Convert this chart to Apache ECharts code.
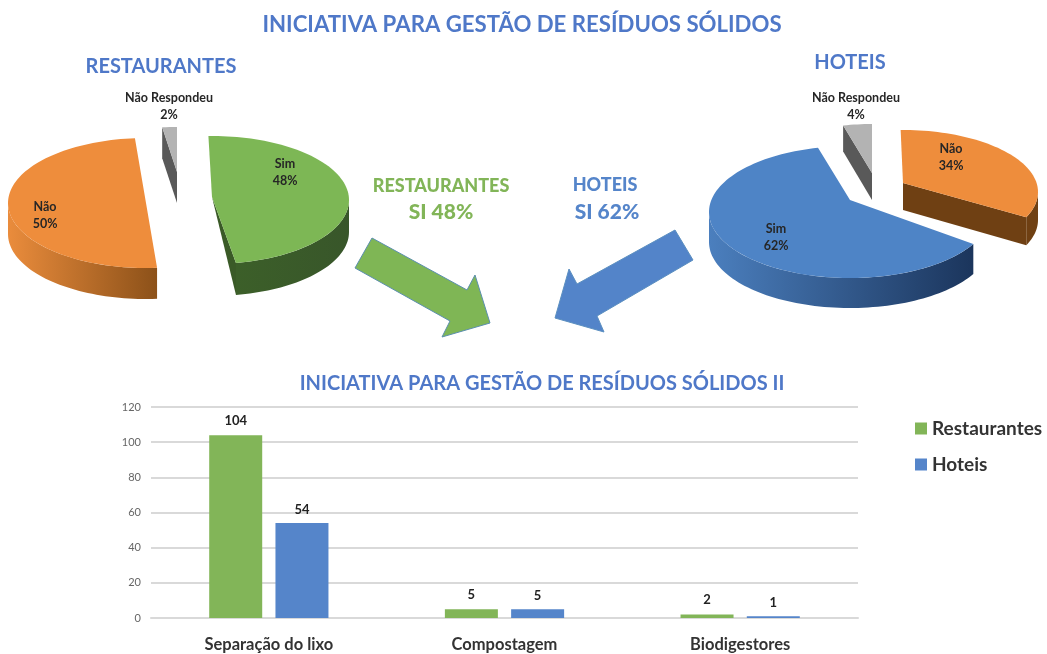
<!DOCTYPE html>
<html><head><meta charset="utf-8">
<style>html,body{margin:0;padding:0;background:#fff}#c{width:1047px;height:654px;filter:blur(0.5px)}</style>
<script src="https://cdn.jsdelivr.net/npm/echarts@6/dist/echarts.min.js"></script>
</head><body><div id="c"></div>
<script>
// ---- data ----
const categories = ['Separação do lixo', 'Compostagem', 'Biodigestores'];
const restaurantes = [104, 5, 2];
const hoteis = [54, 5, 1];
const sliceNames = ['Sim', 'Não', 'Não Respondeu'];
const restaurantesPct = [48, 50, 2];
const hoteisPct = [62, 34, 4];
const yTicksMax = 120, yTicksStep = 20;

// ---- drawing setup for the 3D pies (not data) ----
const FONT = 'Lato, "Noto Sans", sans-serif';
const C = {green:'#7db755', orange:'#ee8d3c', blue:'#4e84c6', gray:'#b3b3b3', title:'#4f78c8', barG:'#82b558', barB:'#5585ca'};
function sideGrad(a,b){return new echarts.graphic.LinearGradient(0,0,1,0,[{offset:0,color:a},{offset:1,color:b}]);}
const restLayout = [
 {cx:212,cy:200,rx:137,ry:64,ax:212,ay:197,start:-1.5,stretch:0.992,depth:32,top:C.green,rim:sideGrad('#3c5f29','#38562a'),faceCol:'#3a5a27',face:'end',apexDrop:0,lx:285,ly:172},
 {cx:146,cy:203,rx:138,ry:65,ax:146,ay:203,start:175.4,stretch:1,depth:31,top:C.orange,rim:sideGrad('#ea8c3c','#8c5119'),lx:45,ly:215},
 {cx:177,cy:172,rx:118,ry:45,ax:177,ay:172,start:352.8,stretch:1,depth:31,top:C.gray,rim:'#595959',faceCol:'#595959',face:'start',apexDrop:31,lx:169,ly:106}
];
const hotelLayout = [
 {cx:850,cy:212,rx:141,ry:66,ax:850,ay:200,start:119,stretch:1.021,depth:30,top:C.blue,rim:sideGrad('#4b7fbe','#1b355c'),lx:776,ly:237},
 {cx:903,cy:192,rx:135,ry:62,ax:903,ay:183,start:-1,stretch:0.94,depth:28,top:C.orange,rim:'#6f4013',faceCol:'#6f4013',face:'end',apexDrop:27,lx:951,ly:157},
 {cx:872,cy:173,rx:116,ry:49,ax:872,ay:173,start:345.6,stretch:1,depth:26,top:C.gray,rim:'#595959',faceCol:'#595959',face:'start',apexDrop:27,lx:856,ly:106}
];

function pieSeries(name, values, layout){
  return {
    type:'custom', name, coordinateSystem:'none', silent:true, z:3,
    data: values.map((v,i)=>({name:sliceNames[i], value:[v,i]})),
    renderItem(params, api){
      const i = params.dataIndex, v = api.value(0), L = layout[i];
      const t0 = L.start, t1 = L.start + v*3.6*L.stretch;
      const pt = (t,d)=>{const r=t*Math.PI/180;return [L.cx+L.rx*Math.sin(r), L.cy-L.ry*Math.cos(r)+(d||0)];};
      const arc=(a,b,d)=>{const n=Math.max(2,Math.ceil(Math.abs(b-a)/2)),o=[];for(let k=0;k<=n;k++)o.push(pt(a+(b-a)*k/n,d));return o;};
      const kids=[];
      let a=Math.max(t0,90), b=Math.min(t1,270);
      if(t0<0 && t1<90){a=1;b=0;}
      if(b>a){
        kids.push({type:'polygon',shape:{points:arc(a,b,0).concat(arc(b,a,L.depth))},style:{fill:L.rim}});
      }
      if(L.face){
        const t=L.face==='end'?t1:t0, p=pt(t,0), q=pt(t,L.depth);
        kids.push({type:'polygon',shape:{points:[[L.ax,L.ay],p,q,[L.ax,L.ay+L.apexDrop]]},style:{fill:L.faceCol}});
      }
      kids.push({type:'polygon',shape:{points:[[L.ax,L.ay]].concat(arc(t0,t1,0))},style:{fill:L.top}});
      kids.push({type:'text',z2:20,style:{x:L.lx,y:L.ly,text:sliceNames[i]+'\n'+v+'%',align:'center',verticalAlign:'middle',
        font:'700 12.5px '+FONT,fill:'#262626',lineHeight:17}});
      return {type:'group',children:kids};
    }
  };
}
function centerText(x,y,text,size,fill){
  return {type:'text',z:5,style:{x,y,text,align:'center',verticalAlign:'middle',font:'900 '+size+'px '+FONT,fill}};
}
function heading(text,x,y,size){
  return {text,left:x,top:y,textAlign:'center',textStyle:{color:C.title,fontFamily:FONT,fontWeight:'bold',fontSize:size},padding:0};
}
const option = {
  animation:false,
  backgroundColor:'#fff',
  title:[
    heading('INICIATIVA PARA GESTÃO DE RESÍDUOS SÓLIDOS',522,14,22.2),
    heading('RESTAURANTES',161,57,20),
    heading('HOTEIS',850,53,20),
    heading('INICIATIVA PARA GESTÃO DE RESÍDUOS SÓLIDOS II',542,374,20)
  ],
  legend:{data:['Restaurantes','Hoteis'],orient:'vertical',left:910,top:414,itemWidth:12,itemHeight:12,itemGap:17,icon:'rect',
    textStyle:{fontFamily:FONT,fontWeight:'bold',fontSize:19,color:'#333'}},
  grid:{left:151,right:189,top:407,bottom:36,containLabel:false},
  xAxis:{type:'category',data:categories,axisTick:{show:false},
    axisLine:{lineStyle:{color:'#d9d9d9',width:2}},
    axisLabel:{margin:18,fontFamily:FONT,fontWeight:'bold',fontSize:16.5,color:'#333'}},
  yAxis:{type:'value',min:0,max:yTicksMax,interval:yTicksStep,axisLine:{show:false},axisTick:{show:false},
    splitLine:{lineStyle:{color:'#d9d9d9',width:2}},
    axisLabel:{margin:10,fontFamily:FONT,fontSize:11,color:'#666'}},
  series:[
    {type:'bar',name:'Restaurantes',data:restaurantes,barWidth:53,barGap:'25%',itemStyle:{color:C.barG},
     label:{show:true,position:'top',distance:8,fontFamily:FONT,fontWeight:'bold',fontSize:13,color:'#222'}},
    {type:'bar',name:'Hoteis',data:hoteis,barWidth:53,itemStyle:{color:C.barB},
     label:{show:true,position:'top',distance:7,fontFamily:FONT,fontWeight:'bold',fontSize:13,color:'#222'}},
    pieSeries('pieRestaurantes',restaurantesPct,restLayout),
    pieSeries('pieHoteis',hoteisPct,hotelLayout)
  ],
  graphic:[
    centerText(441,186,'RESTAURANTES',18,C.barG),
    centerText(441,212,'SI '+restaurantesPct[0]+'%',21,C.barG),
    centerText(605,185,'HOTEIS',18,C.barB),
    centerText(607,212,'SI '+hoteisPct[0]+'%',21,C.barB),
    {type:'polygon',z:4,shape:{points:[[372,238],[467,290],[475,275],[490,323],[442,337],[450,321],[355,268]]},style:{fill:'#7fb655',stroke:'#5b8fae',lineWidth:1}},
    {type:'polygon',z:4,shape:{points:[[675,230],[693,260],[597,316],[604,332],[555,318],[569,269],[577,284]]},style:{fill:'#5384c9',stroke:'#5b8fc0',lineWidth:1}}
  ]
};
echarts.init(document.getElementById('c'),null,{renderer:'canvas'}).setOption(option);
</script></body></html>
